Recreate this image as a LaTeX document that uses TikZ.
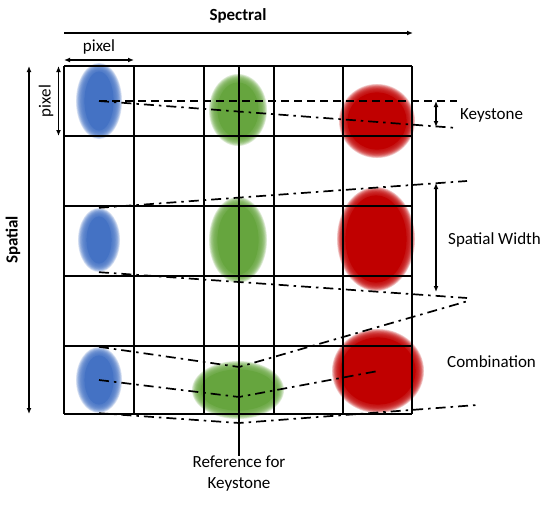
\documentclass[tikz,border=0pt]{standalone}
\usepackage{fontspec}
\setmainfont{Carlito}
\usetikzlibrary{arrows.meta,shapes.geometric}
\definecolor{blobblue}{HTML}{4472C4}
\definecolor{blobgreen}{HTML}{66A53E}
\definecolor{blobred}{HTML}{C00000}
% #1 name, #2 x, #3 y, #4 rx, #5 ry, #6 colour
\newcommand{\softblob}[6]{%
  \foreach \k in {0,...,11}{\fill[#6, opacity=0.2] (#2,#3) ellipse ({#4-\k*0.7} and {#5-\k*0.7});}
  \fill[#6] (#2,#3) ellipse ({#4-8.4} and {#5-8.4});
  \node[ellipse, inner sep=0pt, draw=none, minimum width=2*#4pt, minimum height=2*#5pt] (#1) at (#2,#3) {};
}
\tikzset{
  gridline/.style={line width=1.9pt},
  dd/.style={line width=1.7pt, dash pattern=on 10pt off 5pt on 2.5pt off 5pt},
  dsh/.style={line width=1.7pt, dash pattern=on 8pt off 5pt},
  dim/.style={line width=1.4pt, {Latex[length=6pt,width=5pt]}-{Latex[length=6pt,width=5pt]}},
  lbl/.style={font=\fontsize{17}{20}\selectfont, inner sep=0pt},
}
\begin{document}
\begin{tikzpicture}[x=1pt,y=-1pt]
\useasboundingbox (0,0) rectangle (550,506);
% blobs
\softblob{b1}{99}{101}{23}{38}{blobblue}
\softblob{g1}{238}{110}{29}{36}{blobgreen}
\softblob{r1}{377}{121}{38}{37}{blobred}
\softblob{b3}{99}{240}{21}{32}{blobblue}
\softblob{g3}{238}{240}{29}{43}{blobgreen}
\softblob{r3}{376}{239}{39}{52}{blobred}
\softblob{b5}{99}{380}{23}{33}{blobblue}
\softblob{g5}{238}{390}{46}{29}{blobgreen}
\softblob{r5}{378}{371}{46}{42}{blobred}
% grid
\foreach \x in {64,134,204,274,343,412} \draw[gridline] (\x,66) -- (\x,414);
\foreach \y in {66,136,206,276,346,414} \draw[gridline] (64,\y) -- (412,\y);
% reference line
\coordinate (reftop) at (239,66);
\node[lbl, align=center, anchor=north] (ref) at (239,456) {Reference for\\[1pt]Keystone};
\draw[line width=1.6pt] (reftop) -- (ref.north);
% axes
\coordinate (specL) at (64,33);
\coordinate (specR) at (413,33);
\draw[line width=1.4pt, -{Latex[length=6pt,width=5pt]}] (specL) -- (specR);
\node[lbl, font=\fontsize{17}{20}\selectfont\bfseries] (spectral) at (238,16) {Spectral};
\coordinate (spaT) at (29,66);
\coordinate (spaB) at (29,414);
\draw[dim] (spaT) -- (spaB);
\node[lbl, font=\fontsize{17}{20}\selectfont\bfseries, rotate=90] (spatial) at (13,240) {Spatial};
\coordinate (pxL) at (64,60);
\coordinate (pxR) at (134,60);
\draw[dim] (pxL) -- (pxR);
\node[lbl] (pixh) at (99,47) {pixel};
\coordinate (pyT) at (58.5,66);
\coordinate (pyB) at (58.5,136);
\draw[dim] (pyT) -- (pyB);
\node[lbl, rotate=90] (pixv) at (46,101) {pixel};
% row 1 keystone
\coordinate (k1) at (457,101);
\coordinate (k2) at (457,128);
\draw[dsh] (b1.center) -- (k1);
\draw[dd] (b1.center) -- (k2);
\coordinate (ka) at (436,101);
\coordinate (kb) at (436,127);
\draw[dim] (ka) -- (kb);
\node[lbl, anchor=west] (keystone) at (460,115) {Keystone};
% row 3 spatial width
\coordinate (s1) at (467,181);
\coordinate (s2) at (467,298);
\draw[dd] (b3.north) -- (s1);
\draw[dd] (b3.south) -- (s2);
\coordinate (sa) at (436,183);
\coordinate (sb) at (436,292);
\draw[dim] (sa) -- (sb);
\node[lbl, anchor=west] (sw) at (448,240) {Spatial Width};
% row 5 combination
\coordinate (c1) at (239,367);
\coordinate (c2) at (239,397);
\coordinate (c3) at (239,423);
\coordinate (e1) at (468,301);
\coordinate (e3) at (477,405);
\draw[dd] (b5.north) -- (c1) -- (e1);
\draw[dd] (b5.center) -- (c2) -- (r5.center);
\draw[dd] (b5.south) -- (c3) -- (e3);
\node[lbl, anchor=west] (comb) at (447,362) {Combination};
\end{tikzpicture}
\end{document}
